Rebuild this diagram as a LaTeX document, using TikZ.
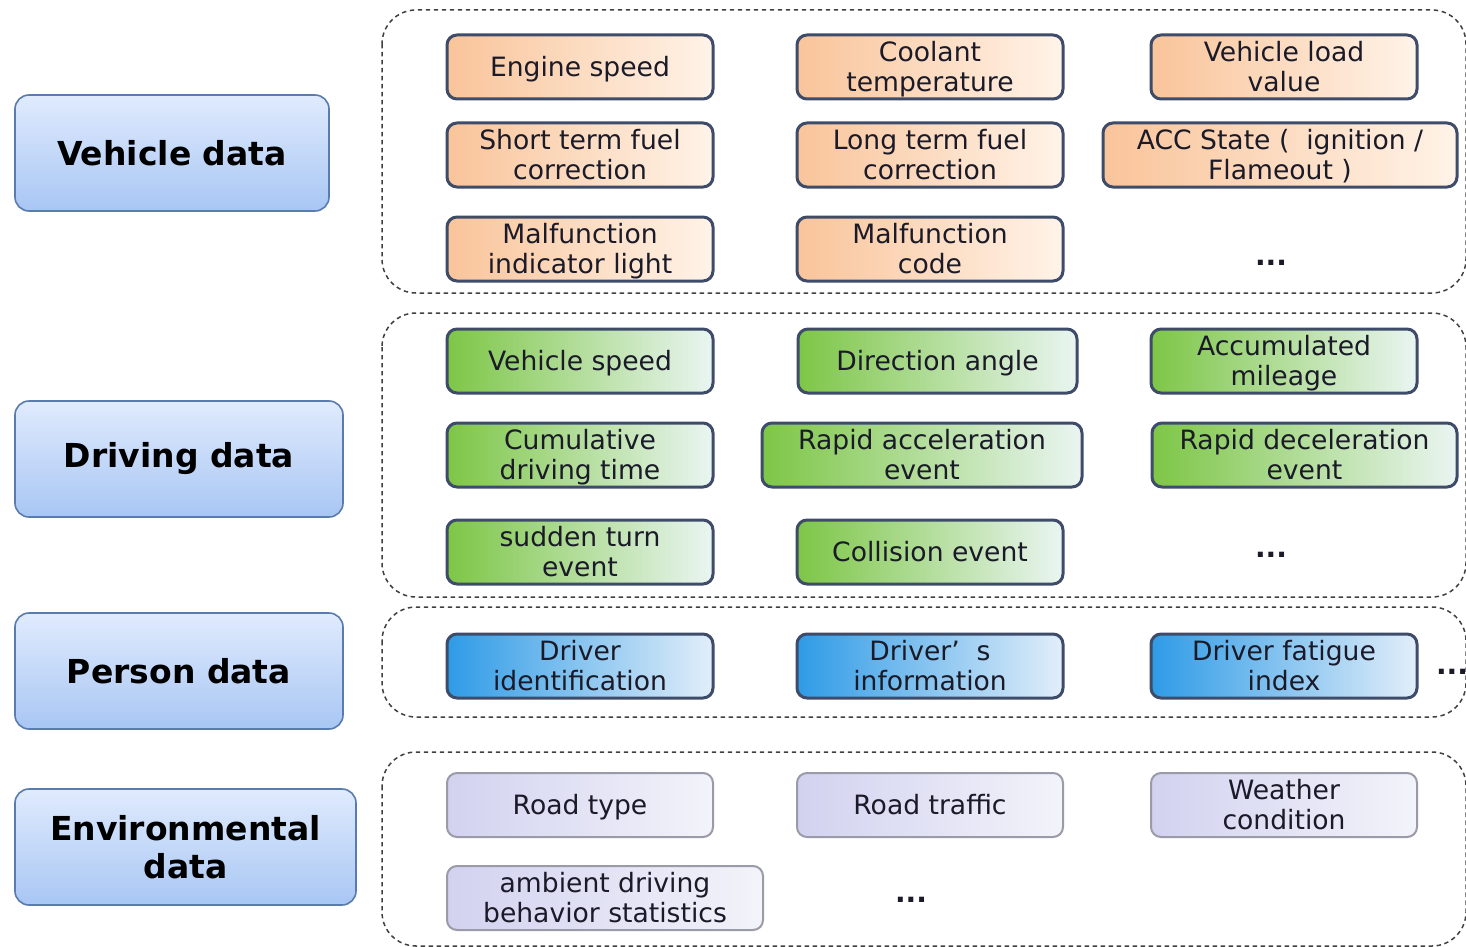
\documentclass[tikz,border=0pt]{standalone}
\usepackage{fontspec}
\setmainfont{DejaVu Sans}
\definecolor{catborder}{HTML}{5A7BAE}
\definecolor{cattop}{HTML}{E0EBFD}
\definecolor{catbot}{HTML}{A8C6F4}
\definecolor{itemborder}{HTML}{3E4C6A}
\definecolor{orangeL}{HTML}{F9C49A}
\definecolor{orangeR}{HTML}{FFF3E8}
\definecolor{greenL}{HTML}{7DC646}
\definecolor{greenR}{HTML}{EAF5F2}
\definecolor{blueL}{HTML}{2E9BE6}
\definecolor{blueR}{HTML}{E2EEFA}
\definecolor{lavL}{HTML}{D2D2F0}
\definecolor{lavR}{HTML}{F3F3FA}
\definecolor{lavborder}{HTML}{9A9AA8}
\definecolor{grpcol}{HTML}{404040}
\definecolor{txt}{HTML}{1A1A28}
\newcommand\itemtop{\rule{0pt}{12.5pt}}
\newcommand\itembot{\rule[-3.2pt]{0pt}{0pt}}
\tikzset{
  cat/.style={draw=catborder, line width=0.8pt, rounded corners=7pt, top color=cattop, bottom color=catbot,
    font=\fontsize{16.5}{19}\selectfont\bfseries, text=black, align=center, inner sep=0pt, minimum height=58pt},
  item/.style={draw=itemborder, line width=1.5pt, rounded corners=5pt, minimum height=32pt, align=center,
    inner sep=0pt, font=\fontsize{13.3}{15}\selectfont, text=txt},
  veh/.style={item, left color=orangeL, right color=orangeR},
  drv/.style={item, left color=greenL, right color=greenR},
  per/.style={item, left color=blueL, right color=blueR},
  env/.style={item, draw=lavborder, line width=1pt, left color=lavL, right color=lavR},
  grp/.style={draw=grpcol, line width=0.75pt, dash pattern=on 2.2pt off 1.8pt, rounded corners=17pt},
  dots/.style={font=\fontsize{14}{14}\selectfont\bfseries, text=txt, inner sep=0pt}
}
\begin{document}
\begin{tikzpicture}[x=0.5pt, y=-0.5pt]
\useasboundingbox (0,0) rectangle (1466,947);
\fill[white] (0,0) rectangle (1466,947);

% dashed groups
\draw[grp] (382,10) rectangle (1466,293);
\draw[grp] (382,313) rectangle (1466,597);
\draw[grp] (382,607) rectangle (1466,717);
\draw[grp] (382,752) rectangle (1466,946);

% category boxes
\node[cat, minimum width=157pt] (vd) at (172,153) {Vehicle data};
\node[cat, minimum width=164pt] (dd) at (179,459) {Driving data};
\node[cat, minimum width=164pt] (pd) at (179,671) {Person data};
\node[cat, minimum width=170.5pt] (ed) at (185.5,847) {Environmental\\data};

% vehicle data items
\node[veh, minimum width=133pt] (v1) at (580,67) {\itemtop Engine speed\itembot};
\node[veh, minimum width=133pt] (v2) at (930,67) {\itemtop Coolant\\temperature\itembot};
\node[veh, minimum width=133pt] (v3) at (1284,67) {\itemtop Vehicle load\\value\itembot};
\node[veh, minimum width=133pt] (v4) at (580,155) {\itemtop Short term fuel\\correction\itembot};
\node[veh, minimum width=133pt] (v5) at (930,155) {\itemtop Long term fuel\\correction\itembot};
\node[veh, minimum width=177pt] (v6) at (1280,155) {\itemtop ACC State (\ \ ignition /\\Flameout )\itembot};
\node[veh, minimum width=133pt] (v7) at (580,249) {\itemtop Malfunction\\indicator light\itembot};
\node[veh, minimum width=133pt] (v8) at (930,249) {\itemtop Malfunction\\code\itembot};
\node[dots] (v9) at (1271,263) {...};

% driving data items
\node[drv, minimum width=133pt] (d1) at (580,361) {\itemtop Vehicle speed\itembot};
\node[drv, minimum width=139.5pt] (d2) at (937.5,361) {\itemtop Direction angle\itembot};
\node[drv, minimum width=133pt] (d3) at (1284,361) {\itemtop Accumulated\\mileage\itembot};
\node[drv, minimum width=133pt] (d4) at (580,455) {\itemtop Cumulative\\driving time\itembot};
\node[drv, minimum width=160pt] (d5) at (922,455) {\itemtop Rapid acceleration\\event\itembot};
\node[drv, minimum width=152.5pt] (d6) at (1304.5,455) {\itemtop Rapid deceleration\\event\itembot};
\node[drv, minimum width=133pt] (d7) at (580,552) {\itemtop sudden turn\\event\itembot};
\node[drv, minimum width=133pt] (d8) at (930,552) {\itemtop Collision event\itembot};
\node[dots] (d9) at (1271,555) {...};

% person data items
\node[per, minimum width=133pt] (p1) at (580,666) {\itemtop Driver\\identification\itembot};
\node[per, minimum width=133pt] (p2) at (930,666) {\itemtop Driver’\ \ s\\information\itembot};
\node[per, minimum width=133pt] (p3) at (1284,666) {\itemtop Driver fatigue\\index\itembot};
\node[dots] (p4) at (1452,672) {...};

% environmental data items
\node[env, minimum width=133pt] (e1) at (580,805) {\itemtop Road type\itembot};
\node[env, minimum width=133pt] (e2) at (930,805) {\itemtop Road traffic\itembot};
\node[env, minimum width=133pt] (e3) at (1284,805) {\itemtop Weather\\condition\itembot};
\node[env, minimum width=158pt] (e4) at (605,898) {\itemtop ambient driving\\behavior statistics\itembot};
\node[dots] (e5) at (911,900) {...};
\end{tikzpicture}
\end{document}
